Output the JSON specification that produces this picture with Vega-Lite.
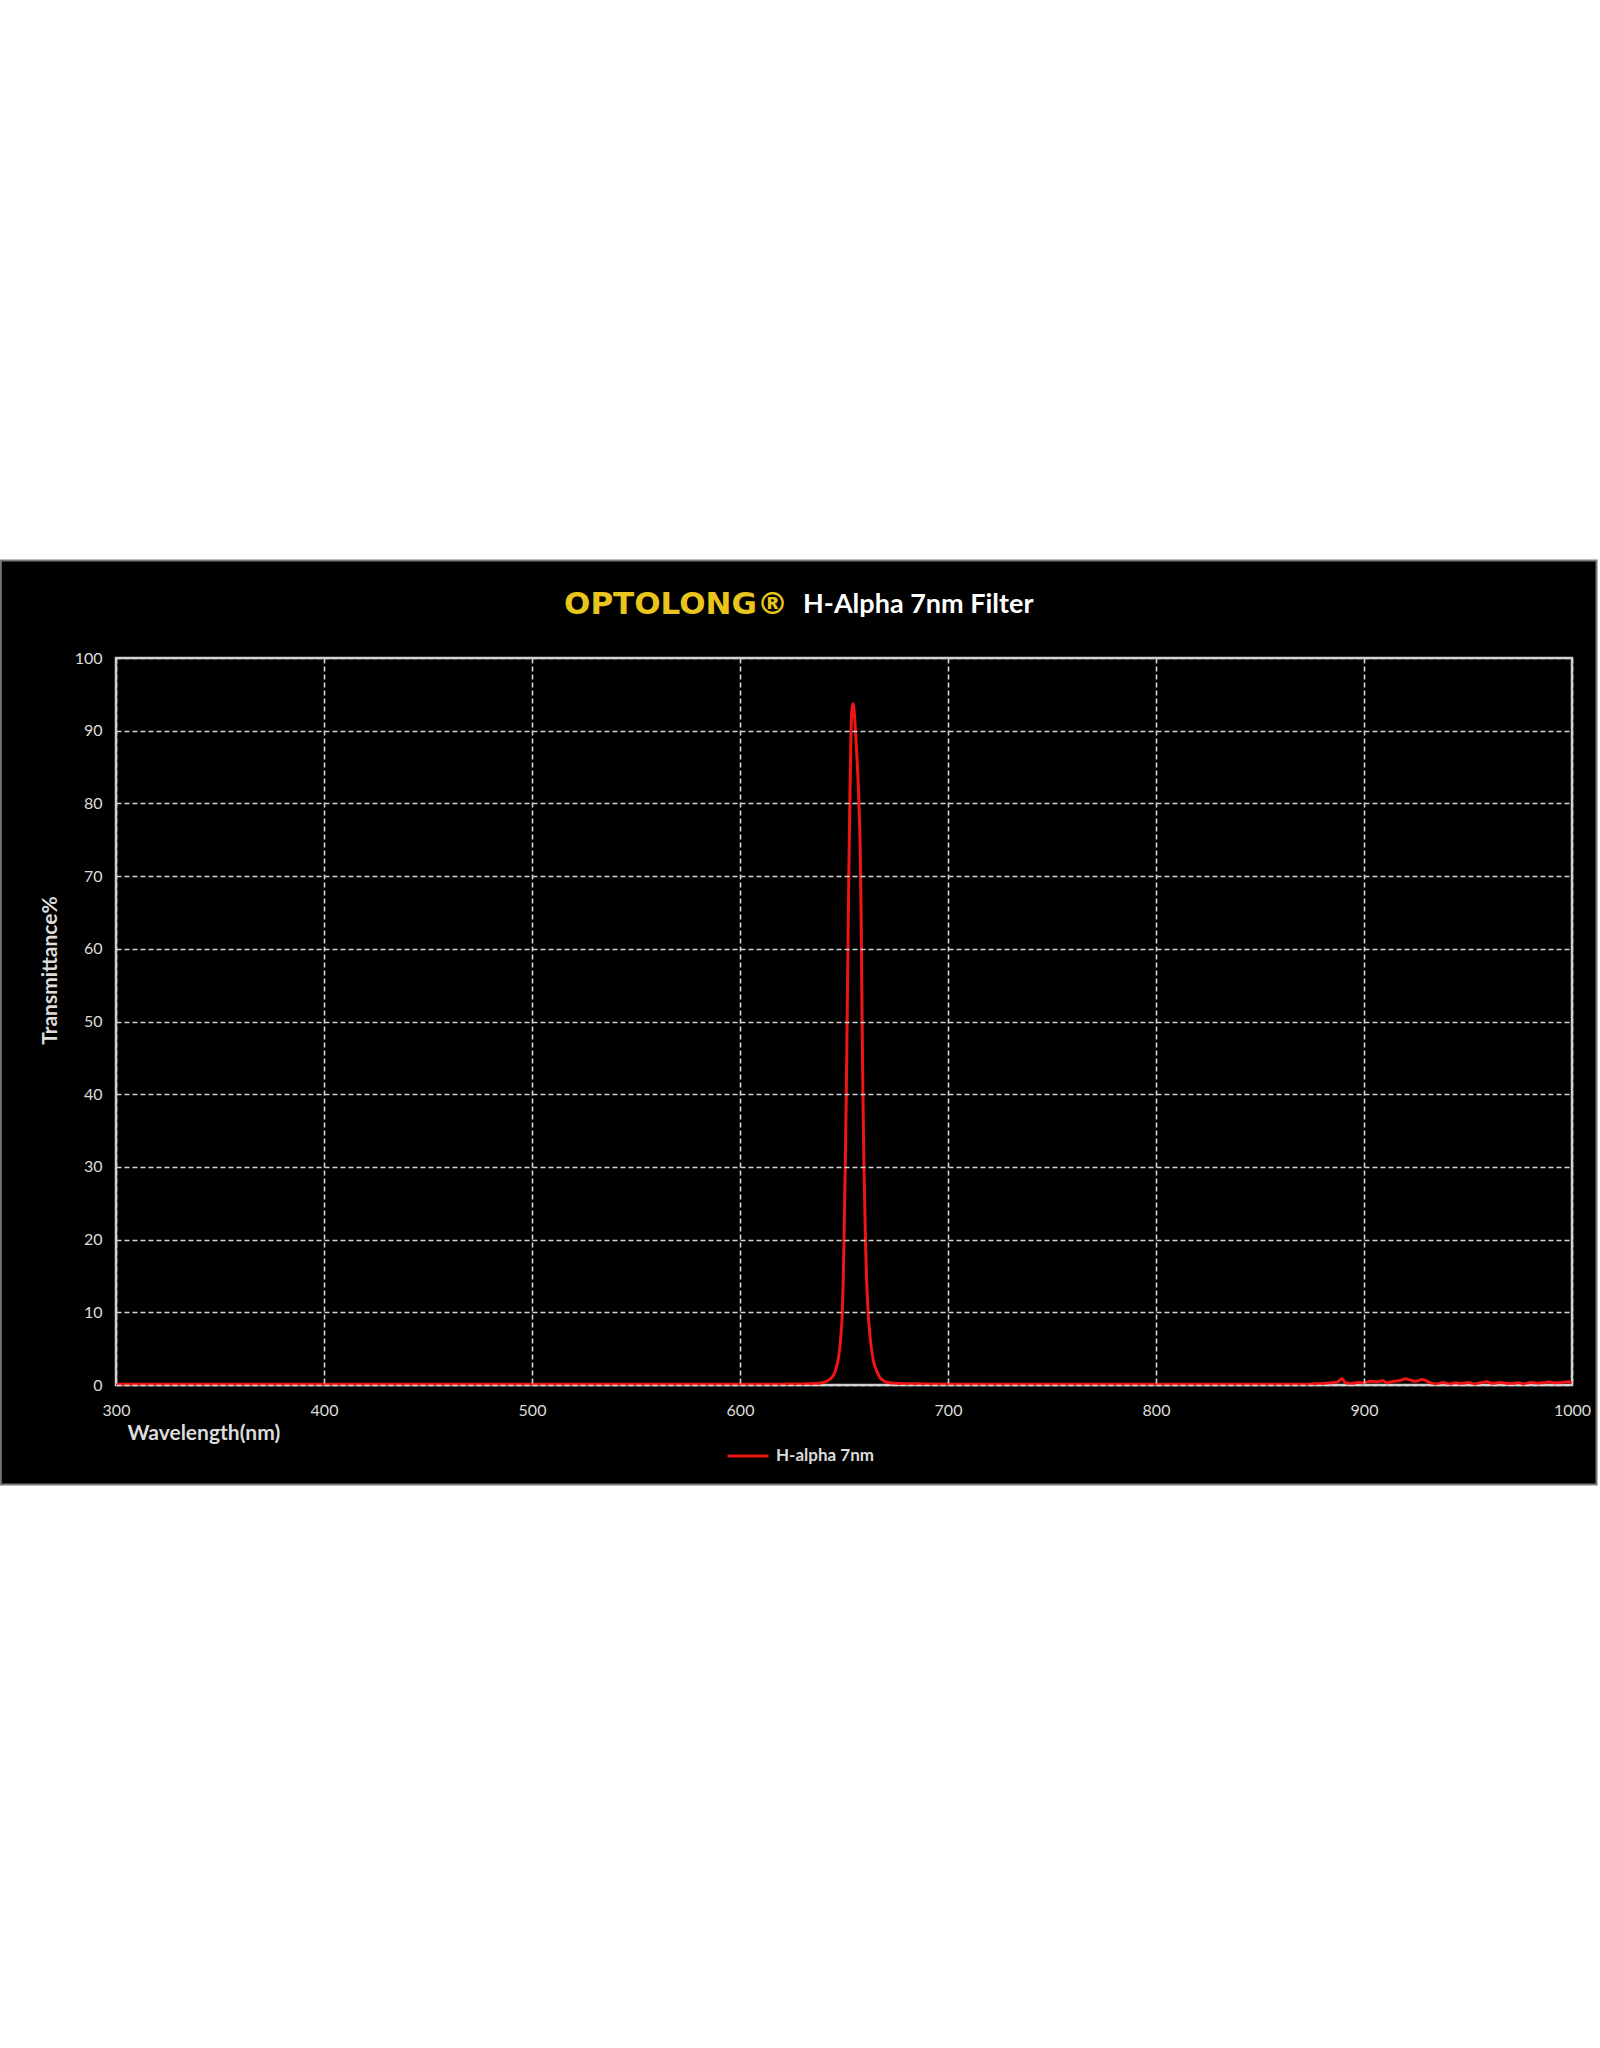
{
  "$schema": "https://vega.github.io/schema/vega-lite/v6.json",
  "width": 1456,
  "height": 727,
  "autosize": {"type": "none"},
  "padding": {"left": 116, "top": 658, "right": 28, "bottom": 663},
  "background": "white",
  "config": {
    "view": {"stroke": null},
    "axis": {
      "domain": false, "ticks": false, "tickSize": 0,
      "grid": true, "gridColor": "#d4d4d4", "gridDash": [5, 3], "gridWidth": 1.6,
      "labelFont": "Lato", "labelFontSize": 16, "labelColor": "#dcdcdc", "format": "d",
      "titleFont": "Lato", "titleFontSize": 21, "titleFontWeight": "bold", "titleColor": "#dcdcdc"
    },
    "axisX": {"labelPadding": 17, "labelFlush": false, "titleX": 11, "titleY": 48, "titleAlign": "left", "titleBaseline": "middle"},
    "axisY": {"labelPadding": 14, "titleX": -66, "titleY": 312, "titleAngle": -90, "titleAlign": "center", "titleBaseline": "middle"}
  },
  "datasets": {
    "curve": [
      {"wavelength": 300, "transmittance": 0.1},
      {"wavelength": 400, "transmittance": 0.1},
      {"wavelength": 500, "transmittance": 0.1},
      {"wavelength": 600, "transmittance": 0.1},
      {"wavelength": 620, "transmittance": 0.12},
      {"wavelength": 630, "transmittance": 0.15},
      {"wavelength": 636, "transmittance": 0.2},
      {"wavelength": 640, "transmittance": 0.35},
      {"wavelength": 642, "transmittance": 0.55},
      {"wavelength": 644, "transmittance": 1.0},
      {"wavelength": 645, "transmittance": 1.4},
      {"wavelength": 646, "transmittance": 2.1},
      {"wavelength": 647, "transmittance": 3.2},
      {"wavelength": 648, "transmittance": 5.2},
      {"wavelength": 648.6, "transmittance": 7.2},
      {"wavelength": 649.2, "transmittance": 10},
      {"wavelength": 649.6, "transmittance": 14},
      {"wavelength": 650.0, "transmittance": 20},
      {"wavelength": 650.3, "transmittance": 25},
      {"wavelength": 650.6, "transmittance": 30},
      {"wavelength": 651.1, "transmittance": 40},
      {"wavelength": 651.5, "transmittance": 50},
      {"wavelength": 651.9, "transmittance": 60},
      {"wavelength": 652.3, "transmittance": 70},
      {"wavelength": 652.8, "transmittance": 80},
      {"wavelength": 653.4, "transmittance": 90},
      {"wavelength": 653.8, "transmittance": 92.8},
      {"wavelength": 654.3, "transmittance": 93.7},
      {"wavelength": 654.8, "transmittance": 93.0},
      {"wavelength": 655.5, "transmittance": 90},
      {"wavelength": 656.3, "transmittance": 86},
      {"wavelength": 657.2, "transmittance": 80},
      {"wavelength": 658.0, "transmittance": 70},
      {"wavelength": 658.4, "transmittance": 60},
      {"wavelength": 658.7, "transmittance": 50},
      {"wavelength": 659.1, "transmittance": 40},
      {"wavelength": 659.6, "transmittance": 30},
      {"wavelength": 660.3, "transmittance": 20},
      {"wavelength": 660.8, "transmittance": 15},
      {"wavelength": 661.6, "transmittance": 10},
      {"wavelength": 662.4, "transmittance": 7},
      {"wavelength": 663.3, "transmittance": 4.8},
      {"wavelength": 664.4, "transmittance": 3},
      {"wavelength": 665.8, "transmittance": 1.9},
      {"wavelength": 667.3, "transmittance": 1.0},
      {"wavelength": 669, "transmittance": 0.6},
      {"wavelength": 672, "transmittance": 0.3},
      {"wavelength": 676, "transmittance": 0.2},
      {"wavelength": 690, "transmittance": 0.15},
      {"wavelength": 720, "transmittance": 0.1},
      {"wavelength": 800, "transmittance": 0.1},
      {"wavelength": 850, "transmittance": 0.1},
      {"wavelength": 870, "transmittance": 0.12},
      {"wavelength": 875, "transmittance": 0.15},
      {"wavelength": 880, "transmittance": 0.2},
      {"wavelength": 884, "transmittance": 0.3},
      {"wavelength": 887, "transmittance": 0.4},
      {"wavelength": 889.5, "transmittance": 0.85},
      {"wavelength": 891, "transmittance": 0.3},
      {"wavelength": 894, "transmittance": 0.2},
      {"wavelength": 897, "transmittance": 0.35},
      {"wavelength": 900, "transmittance": 0.3},
      {"wavelength": 903, "transmittance": 0.5},
      {"wavelength": 906, "transmittance": 0.45},
      {"wavelength": 909, "transmittance": 0.6},
      {"wavelength": 911, "transmittance": 0.3},
      {"wavelength": 914, "transmittance": 0.5},
      {"wavelength": 917, "transmittance": 0.6},
      {"wavelength": 920, "transmittance": 0.85},
      {"wavelength": 922, "transmittance": 0.7},
      {"wavelength": 925, "transmittance": 0.5},
      {"wavelength": 928, "transmittance": 0.75},
      {"wavelength": 930, "transmittance": 0.55},
      {"wavelength": 932, "transmittance": 0.3},
      {"wavelength": 935, "transmittance": 0.15},
      {"wavelength": 938, "transmittance": 0.35},
      {"wavelength": 941, "transmittance": 0.15},
      {"wavelength": 944, "transmittance": 0.3},
      {"wavelength": 947, "transmittance": 0.2},
      {"wavelength": 950, "transmittance": 0.35},
      {"wavelength": 953, "transmittance": 0.15},
      {"wavelength": 956, "transmittance": 0.3},
      {"wavelength": 959, "transmittance": 0.45},
      {"wavelength": 962, "transmittance": 0.2},
      {"wavelength": 965, "transmittance": 0.35},
      {"wavelength": 968, "transmittance": 0.25},
      {"wavelength": 971, "transmittance": 0.2},
      {"wavelength": 974, "transmittance": 0.3},
      {"wavelength": 977, "transmittance": 0.15},
      {"wavelength": 980, "transmittance": 0.35},
      {"wavelength": 983, "transmittance": 0.25},
      {"wavelength": 986, "transmittance": 0.3},
      {"wavelength": 989, "transmittance": 0.4},
      {"wavelength": 992, "transmittance": 0.3},
      {"wavelength": 995, "transmittance": 0.35},
      {"wavelength": 998, "transmittance": 0.45},
      {"wavelength": 1000, "transmittance": 0.3}
    ]
  },
  "layer": [
    {
      "data": {"values": [{}]},
      "mark": {"type": "rect", "fill": "black", "stroke": "#7a7a7a", "strokeWidth": 2, "clip": false},
      "encoding": {
        "x": {"datum": 244.6, "type": "quantitative", "scale": {"domain": [300, 1000], "nice": false, "zero": false}},
        "x2": {"datum": 1011.8},
        "y": {"datum": 113.4, "type": "quantitative", "scale": {"domain": [0, 100], "nice": false}},
        "y2": {"datum": -13.7}
      }
    },
    {
      "data": {"values": [{}]},
      "mark": {"type": "rect", "filled": false, "stroke": "#cfcfcf", "strokeWidth": 2.5, "clip": false},
      "encoding": {
        "x": {"datum": 300, "type": "quantitative", "scale": {"domain": [300, 1000], "nice": false, "zero": false}},
        "x2": {"datum": 1000},
        "y": {"datum": 0, "type": "quantitative", "scale": {"domain": [0, 100], "nice": false}},
        "y2": {"datum": 100}
      }
    },
    {
      "data": {"name": "curve"},
      "mark": {"type": "line", "strokeWidth": 3, "interpolate": "monotone", "clip": false},
      "encoding": {
        "x": {
          "field": "wavelength", "type": "quantitative",
          "scale": {"domain": [300, 1000], "nice": false, "zero": false},
          "axis": {"title": "Wavelength(nm)", "values": [300, 400, 500, 600, 700, 800, 900, 1000], "format": "d", "zindex": 1}
        },
        "y": {
          "field": "transmittance", "type": "quantitative",
          "scale": {"domain": [0, 100], "nice": false},
          "axis": {"title": "Transmittance%", "values": [0, 10, 20, 30, 40, 50, 60, 70, 80, 90, 100], "format": "d", "zindex": 1}
        },
        "color": {
          "datum": "H-alpha 7nm", "type": "nominal",
          "scale": {"range": ["#f01414"]},
          "legend": {
            "title": null, "orient": "none", "legendX": 610, "legendY": 776, "zindex": 1, "padding": 0,
            "symbolType": "stroke", "symbolSize": 1681, "symbolStrokeWidth": 3,
            "labelFont": "Lato", "labelFontSize": 17, "labelFontWeight": "bold", "labelColor": "#dcdcdc", "labelOffset": 6
          }
        }
      }
    },
    {
      "data": {"values": [{}]},
      "mark": {"type": "text", "text": "OPTOLONG®", "align": "left", "baseline": "middle", "font": "DejaVu Sans", "fontWeight": "bold", "fontSize": 31, "fill": "#e8c41c", "clip": false},
      "encoding": {
        "x": {"datum": 515.4, "type": "quantitative", "scale": {"domain": [300, 1000], "nice": false, "zero": false}},
        "y": {"datum": 107.3, "type": "quantitative", "scale": {"domain": [0, 100], "nice": false}}
      }
    },
    {
      "data": {"values": [{}]},
      "mark": {"type": "text", "text": "H-Alpha 7nm Filter", "align": "left", "baseline": "middle", "font": "Lato", "fontWeight": "bold", "fontSize": 27, "fill": "white", "clip": false},
      "encoding": {
        "x": {"datum": 630.3, "type": "quantitative", "scale": {"domain": [300, 1000], "nice": false, "zero": false}},
        "y": {"datum": 107.3, "type": "quantitative", "scale": {"domain": [0, 100], "nice": false}}
      }
    }
  ]
}
